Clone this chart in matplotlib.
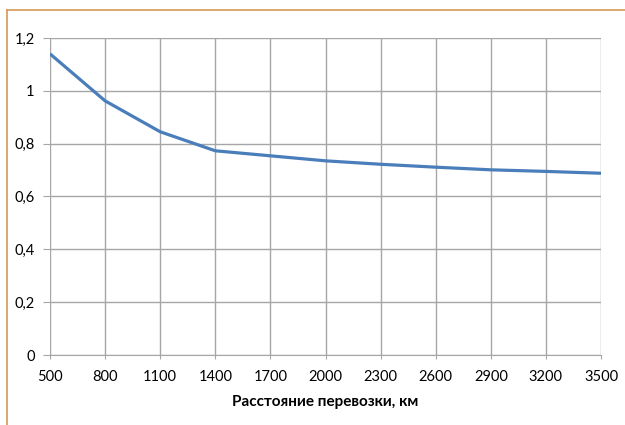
import matplotlib
matplotlib.use('Agg')
import matplotlib.pyplot as plt
from matplotlib.lines import Line2D

# distance categories (km) and the coefficient at each
distance = [500, 800, 1100, 1400, 1700, 2000, 2300, 2600, 2900, 3200, 3500]
coef = [1.14, 0.962, 0.845, 0.773, 0.754, 0.735, 0.722, 0.711, 0.701, 0.695, 0.688]
yticks = [0, 0.2, 0.4, 0.6, 0.8, 1.0, 1.2]
ytick_labels = ['0', '0,2', '0,4', '0,6', '0,8', '1', '1,2']

plt.rcParams['font.family'] = ['Lato', 'DejaVu Sans']

fig = plt.figure(figsize=(6.25, 4.25), dpi=100)
ax = fig.add_axes([0.08, 0.1647, 0.8816, 0.7459])

pos = list(range(len(distance)))
ax.plot(pos, coef, color='#4A7EBB', lw=2.3, solid_capstyle='butt', zorder=3)

ax.set_xlim(0, len(distance) - 1)
ax.set_ylim(0, 1.2)
ax.set_xticks(pos)
ax.set_xticklabels([str(d) for d in distance], fontsize=10.5)
ax.set_yticks(yticks)
ax.set_yticklabels(ytick_labels, fontsize=10.5)
ax.grid(True, color='#A6A6A6', lw=1)
ax.set_axisbelow(True)
for s in ax.spines.values():
    s.set_visible(False)
ax.spines['bottom'].set_visible(True)
ax.spines['bottom'].set_color('#A6A6A6')
ax.tick_params(axis='y', length=5, color='#A6A6A6', pad=6)
ax.tick_params(axis='x', length=3, color='#A6A6A6', pad=8)

ax.set_xlabel('Расстояние перевозки, км', fontsize=11, fontweight='bold', labelpad=8)

# chart frame (top and left edges)
fx = 7 / 625
fy = 1 - 10 / 425
fig.add_artist(Line2D([fx, 1], [fy, fy], color='#D69A55', lw=1.2))
fig.add_artist(Line2D([fx, fx], [0, fy], color='#D69A55', lw=1.2))

fig.savefig('out.png', dpi=100)
